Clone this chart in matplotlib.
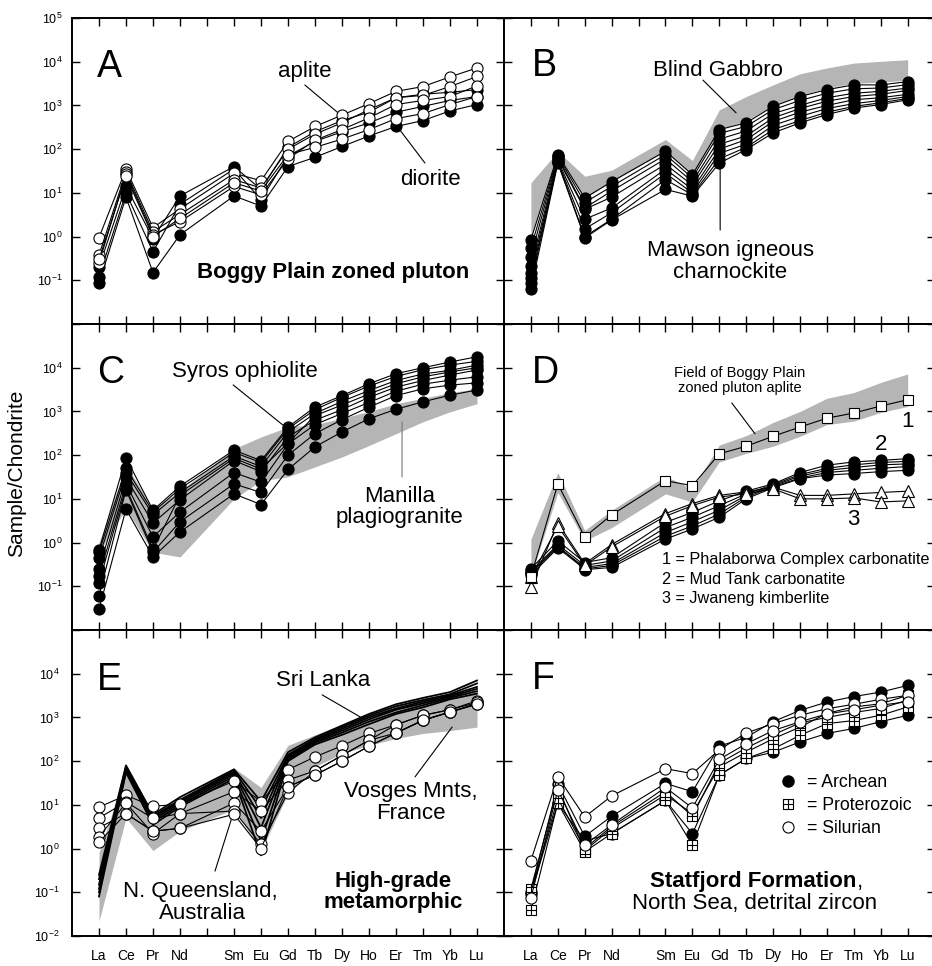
import numpy as np
import matplotlib
matplotlib.use("Agg")
import matplotlib.pyplot as plt
from matplotlib.path import Path
from matplotlib.lines import Line2D
from matplotlib.ticker import NullLocator

plt.rcParams["font.family"] = ["Liberation Sans", "DejaVu Sans"]
plt.rcParams["mathtext.fontset"] = "custom"
plt.rcParams["mathtext.rm"] = "Liberation Sans"

# ---- data (chondrite-normalised REE) ----
elements = ["La", "Ce", "Pr", "Nd", "", "Sm", "Eu", "Gd", "Tb", "Dy", "Ho", "Er", "Tm", "Yb", "Lu"]
ree = ["La", "Ce", "Pr", "Nd", "Sm", "Eu", "Gd", "Tb", "Dy", "Ho", "Er", "Tm", "Yb", "Lu"]

# A  Boggy Plain zoned pluton
boggy_aplite = [
    [0.95, 35, 1.6, 4.3, 28, 19, 150, 330, 600, 1100, 2100, 2700, 4500, 7200],
    [0.38, 30, 1.3, 3.2, 20, 13, 100, 220, 400, 800, 1500, 1700, 2700, 4600],
    [0.25, 27, 1.1, 2.2, 14, 9, 60, 160, 280, 520, 1050, 1300, 1600, 2800],
    [0.30, 24, 1.0, 2.6, 17, 11, 75, 110, 170, 280, 500, 650, 1050, 1600],
]
boggy_diorite = [
    [0.20, 14, 0.9, 8.5, 40, 12, 110, 250, 450, 700, 1500, 1800, 2000, 2300],
    [0.12, 10, 0.45, 5.5, 35, 7, 70, 150, 250, 400, 700, 950, 1300, 1600],
    [0.085, 8, 0.15, 1.1, 8.5, 5, 40, 65, 115, 200, 330, 450, 750, 1050],
]

# B  Mawson igneous charnockite + Blind Gabbro field
mawson = [
    [0.85, 75, 7.6, 18, 90, 26, 280, 400, 950, 1600, 2300, 2950, 2950, 3500],
    [0.55, 70, 6.0, 14, 75, 22, 230, 330, 800, 1300, 1900, 2400, 2500, 3000],
    [0.35, 65, 4.5, 11, 60, 18, 170, 260, 650, 1000, 1500, 1900, 2100, 2500],
    [0.21, 60, 4.2, 8, 45, 15, 130, 200, 520, 850, 1250, 1600, 1800, 2200],
    [0.15, 55, 2.5, 4.5, 35, 12, 100, 165, 430, 700, 1000, 1350, 1500, 1800],
    [0.11, 52, 1.5, 3.5, 28, 10, 80, 130, 350, 560, 850, 1100, 1300, 1600],
    [0.087, 50, 1.0, 2.5, 20, 9, 60, 110, 280, 450, 700, 950, 1150, 1450],
    [0.062, 48, 0.93, 2.4, 12, 8.4, 48, 98, 235, 400, 620, 870, 1050, 1350],
]
gabbro_hi = [17, 89, 24, 33, 166, 55, 790, 1600, 2950, 5300, 7200, 9300, 10200, 11100]
gabbro_lo = [1.0, 75, 7.6, 18, 90, 26, 280, 450, 1000, 1700, 2500, 3200, 3400, 3800]

# C  Syros ophiolite + Manilla plagiogranite field
syros = [
    [0.68, 87, 5.5, 19.5, 130, 75, 440, 1260, 2300, 4300, 7300, 10000, 13500, 17800],
    [0.60, 50, 5.0, 17, 115, 68, 400, 1100, 2100, 3800, 6300, 9000, 11500, 14000],
    [0.45, 40, 4.3, 14, 95, 55, 340, 900, 1700, 3000, 5100, 7200, 8700, 11500],
    [0.25, 30, 2.8, 9.5, 75, 42, 260, 630, 1100, 2100, 3600, 5100, 6800, 8900],
    [0.17, 22, 1.35, 5.0, 40, 24, 180, 500, 900, 1600, 2900, 4200, 5200, 6200],
    [0.06, 16, 0.6, 3.0, 22, 14, 100, 310, 650, 1250, 2300, 3300, 4000, 4500],
    [0.03, 5.8, 0.47, 1.75, 13, 7.4, 47, 155, 340, 680, 1120, 1660, 2350, 3100],
    [0.12, 18, 0.7, 12, 85, 48, 190, 800, 1400, 2500, 4300, 6200, 8000, 10000],
]
manilla_hi = [1.0, 60, 6, 15, 140, 260, 440, 500, 700, 1000, 1500, 2000, 2700, 3300]
manilla_lo = [0.6, 6, 0.6, 0.47, 10, 26, 32, 54, 91, 166, 310, 580, 980, 1500]

# D  carbonatites / kimberlite + Boggy Plain aplite field
phalaborwa = [0.165, 22, 1.35, 4.3, 26, 20, 107, 160, 270, 440, 700, 920, 1330, 1850]
mud_tank = [
    [0.25, 1.1, 0.35, 0.45, 2.9, 4.9, 9, 15, 22, 40, 59, 70, 76, 83],
    [0.22, 0.9, 0.30, 0.38, 2.2, 3.8, 7, 13, 21, 36, 50, 60, 68, 72],
    [0.20, 0.8, 0.27, 0.33, 1.7, 3.0, 5.5, 12, 20, 33, 45, 52, 60, 63],
    [0.18, 0.75, 0.25, 0.30, 1.4, 2.4, 4.5, 11, 19, 30, 40, 45, 50, 55],
    [0.20, 0.85, 0.24, 0.27, 1.2, 2.05, 3.8, 10, 18, 29, 35, 38, 42, 45],
]
jwaneng = [
    [0.095, 2.8, 0.33, 0.9, 4.6, 7.8, 12, 14.5, 18.5, 12, 12, 13, 14, 15],
    [0.16, 2.4, 0.30, 0.8, 4.0, 7.0, 11, 13, 17, 10, 10, 10.5, 8.5, 9],
]
aplite_hi = [1.2, 40, 1.9, 5.5, 33, 17, 170, 280, 560, 1000, 2000, 2700, 4600, 7200]
aplite_lo = [0.17, 14, 1.1, 2.2, 13, 8.5, 70, 110, 160, 270, 500, 600, 950, 1300]

# E  high-grade metamorphic
sri_lanka = [
    [0.25, 80, 6, 15, 65, 12, 160, 350, 650, 1200, 2000, 2800, 3800, 7000],
    [0.20, 75, 5.5, 13, 60, 8, 140, 320, 600, 1100, 1800, 2500, 3400, 6000],
    [0.15, 70, 5, 12, 55, 5, 130, 300, 550, 1000, 1600, 2300, 3200, 5000],
    [0.12, 65, 4.5, 11, 50, 3, 120, 280, 500, 900, 1500, 2100, 3000, 4500],
    [0.10, 60, 4, 10, 45, 1.5, 110, 260, 450, 800, 1300, 1900, 2800, 4000],
    [0.08, 55, 3.5, 9, 40, 0.7, 100, 240, 400, 700, 1200, 1700, 2600, 3500],
]
queensland = [
    [8.9, 16.5, 9.3, 10.3, 35, 11.8, 64, 125, 225, 430, 680, 1120, 1500, 2400],
    [5.0, 11.7, 4.9, 6.3, 20, 7.3, 37, 60, 135, 300, 440, 860, 1330, 2100],
    [3.0, 6.3, 2.5, 2.9, 11, 2.5, 26, 48, 100, 220, 440, 860, 1330, 2000],
    [1.85, 11, 2.2, 6.3, 7.2, 1.25, 19, 60, 135, 300, 680, 1120, 1500, 2200],
    [1.4, 6.3, 2.5, 2.9, 6.1, 1.0, 26, 48, 100, 220, 440, 860, 1330, 2000],
]
vosges_hi = [0.8, 60, 6, 14, 70, 25, 230, 400, 700, 1200, 2000, 2800, 3500, 4000]
vosges_lo = [0.022, 5, 0.9, 2.5, 8, 0.9, 18, 74, 150, 230, 330, 430, 500, 600]

# F  Statfjord Formation detrital zircon
archean = [
    [0.10, 30, 1.9, 5.5, 31, 20, 220, 350, 800, 1450, 2250, 3000, 3800, 5400],
    [0.09, 11, 1.5, 2.2, 12.6, 2.2, 48, 115, 160, 275, 430, 560, 800, 1120],
]
proterozoic = [
    [0.12, 25, 0.9, 2.9, 17, 6.3, 74, 160, 325, 600, 1240, 1740, 2050, 3200],
    [0.039, 11, 0.85, 2.2, 12.6, 1.2, 48, 115, 190, 390, 720, 850, 1120, 1740],
    [0.10, 14, 1.0, 3.2, 20, 5.5, 90, 200, 400, 750, 1000, 1300, 1600, 2500],
]
silurian = [
    [0.53, 44, 5.3, 16, 67, 52, 182, 440, 720, 1120, 1580, 2000, 2600, 3200],
    [0.074, 22, 1.2, 3.5, 25, 8.5, 110, 250, 500, 800, 1200, 1500, 1900, 2300],
]

pos = [elements.index(e) for e in ree]
gray = "#b5b5b5"

# boxed-plus marker for Proterozoic
boxplus = Path(
    [(-1, -1), (1, -1), (1, 1), (-1, 1), (-1, -1), (-1, 0), (1, 0), (0, -1), (0, 1)],
    [Path.MOVETO, Path.LINETO, Path.LINETO, Path.LINETO, Path.CLOSEPOLY,
     Path.MOVETO, Path.LINETO, Path.MOVETO, Path.LINETO])

W, H = 932, 966
fig = plt.figure(figsize=(W / 100, H / 100), dpi=100)


def make_ax(x0, x1, top):
    return fig.add_axes([x0 / W, (H - top - 306) / H, (x1 - x0) / W, 306 / H])


axA = make_ax(72, 504, 18)
axB = make_ax(504, 934.6, 18)
axC = make_ax(72, 504, 324)
axD = make_ax(504, 934.6, 324)
axE = make_ax(72, 504, 630)
axF = make_ax(504, 934.6, 630)

decades = [1e-2, 1e-1, 1e0, 1e1, 1e2, 1e3, 1e4, 1e5]
for ax in [axA, axB, axC, axD, axE, axF]:
    ax.set_yscale("log")
    ax.set_xlim(-1, 15)
    ax.set_ylim(1e-2, 1e5)
    ax.set_xticks(range(15))
    ax.set_yticks(decades)
    ax.yaxis.set_minor_locator(NullLocator())
    ax.tick_params(direction="in", length=5.5, width=1, top=True, right=True,
                   labelsize=9, pad=7, labelbottom=False, labelleft=False)
    for s in ax.spines.values():
        s.set_linewidth(1.4)

left_labels = {
    axA: [None, -1, 0, 1, 2, 3, 4, 5],
    axC: [None, -1, 0, 1, 2, 3, 4, None],
    axE: [-2, -1, 0, 1, 2, 3, 4, None],
}
for ax, exps in left_labels.items():
    ax.tick_params(labelleft=True)
    ax.set_yticklabels(["" if e is None else r"$\mathregular{10^{%d}}$" % e for e in exps])

for ax in [axE, axF]:
    ax.tick_params(labelbottom=True, pad=9)
    ax.set_xticklabels(elements, fontsize=10)

lw, ms = 0.8, 8
big = 16


def series(ax, vals, marker="o", fc="k", size=ms, z=3):
    ax.plot(pos, vals, color="k", lw=lw, marker=marker, ms=size, mfc=fc,
            mec="k", mew=0.8, zorder=z)


def band(ax, lo, hi):
    ax.fill_between(pos, lo, hi, color=gray, lw=0, zorder=1)


def label(ax, x, y, s, size=big, ha="center", weight="normal", color="k"):
    return ax.text(x, y, s, transform=ax.transAxes, fontsize=size, ha=ha,
                   va="baseline", fontweight=weight, color=color)


def leader(ax, p0, p1, color="k"):
    ax.annotate("", xy=p1, xytext=p0, xycoords="axes fraction",
                textcoords="axes fraction",
                arrowprops=dict(arrowstyle="-", lw=0.8, color=color,
                                shrinkA=0, shrinkB=0))


# ---- A ----
for v in boggy_diorite:
    series(axA, v, fc="k")
for v in boggy_aplite:
    series(axA, v, fc="white", z=4)
label(axA, 0.058, 0.808, "A", size=27, ha="left")
label(axA, 0.539, 0.807, "aplite")
leader(axA, (0.539, 0.781), (0.616, 0.690))
label(axA, 0.829, 0.454, "diorite")
leader(axA, (0.817, 0.526), (0.759, 0.634))
label(axA, 0.289, 0.150, "Boggy Plain zoned pluton", ha="left", weight="bold")

# ---- B ----
band(axB, gabbro_lo, gabbro_hi)
for v in mawson:
    series(axB, v, fc="k")
label(axB, 0.064, 0.810, "B", size=27, ha="left")
label(axB, 0.497, 0.810, "Blind Gabbro")
leader(axB, (0.462, 0.797), (0.539, 0.690))
label(axB, 0.525, 0.222, "Mawson igneous")
label(axB, 0.525, 0.150, "charnockite")
leader(axB, (0.502, 0.307), (0.502, 0.627))

# ---- C ----
band(axC, manilla_lo, manilla_hi)
for v in syros:
    series(axC, v, fc="k")
label(axC, 0.058, 0.807, "C", size=27, ha="left")
label(axC, 0.40, 0.828, "Syros ophiolite")
leader(axC, (0.373, 0.801), (0.488, 0.670))
label(axC, 0.759, 0.419, "Manilla")
label(axC, 0.759, 0.350, "plagiogranite")
leader(axC, (0.764, 0.50), (0.764, 0.68), color="#777777")

# ---- D ----
band(axD, aplite_lo, aplite_hi)
for v in mud_tank:
    series(axD, v, fc="k")
for v in jwaneng:
    series(axD, v, marker="^", fc="white", z=4)
series(axD, phalaborwa, marker="s", fc="white", size=7, z=5)
label(axD, 0.064, 0.807, "D", size=27, ha="left")
label(axD, 0.548, 0.828, "Field of Boggy Plain", size=10.5)
label(axD, 0.548, 0.779, "zoned pluton aplite", size=10.5)
leader(axD, (0.529, 0.742), (0.583, 0.641))
label(axD, 0.938, 0.664, "1")
label(axD, 0.876, 0.588, "2")
label(axD, 0.811, 0.343, "3")
label(axD, 0.367, 0.216, "1 = Phalaborwa Complex carbonatite", size=11.7, ha="left")
label(axD, 0.367, 0.150, "2 = Mud Tank carbonatite", size=11.7, ha="left")
label(axD, 0.367, 0.087, "3 = Jwaneng kimberlite", size=11.7, ha="left")

# ---- E ----
band(axE, vosges_lo, vosges_hi)
for v in sri_lanka:
    axE.plot(pos, v, color="k", lw=1.3, zorder=3)
for v in queensland:
    series(axE, v, fc="white", z=4)
label(axE, 0.058, 0.804, "E", size=27, ha="left")
label(axE, 0.581, 0.817, "Sri Lanka")
leader(axE, (0.579, 0.788), (0.667, 0.716))
label(axE, 0.785, 0.454, "Vosges Mnts,")
label(axE, 0.785, 0.382, "France")
leader(axE, (0.794, 0.520), (0.880, 0.683))
label(axE, 0.296, 0.128, "N. Queensland,")
label(axE, 0.301, 0.055, "Australia")
leader(axE, (0.331, 0.212), (0.377, 0.418))
label(axE, 0.743, 0.161, "High-grade", weight="bold")
label(axE, 0.743, 0.090, "metamorphic", weight="bold")

# ---- F ----
for v in archean:
    series(axF, v, fc="k")
for v in proterozoic:
    series(axF, v, marker=boxplus, fc="white", size=7, z=4)
for v in silurian:
    series(axF, v, fc="white", z=5)
label(axF, 0.064, 0.807, "F", size=27, ha="left")
t = label(axF, 0.819, 0.161, "Statfjord Formation", ha="right", weight="bold")
axF.annotate(",", xy=(1, 0), xycoords=t, ha="left", va="bottom", fontsize=big)
label(axF, 0.583, 0.088, "North Sea, detrital zircon")
handles = [
    Line2D([], [], ls="none", marker="o", ms=ms, mfc="k", mec="k"),
    Line2D([], [], ls="none", marker=boxplus, ms=7, mfc="white", mec="k", mew=0.8),
    Line2D([], [], ls="none", marker="o", ms=ms, mfc="white", mec="k", mew=0.8),
]
axF.legend(handles, ["= Archean", "= Proterozoic", "= Silurian"], loc="upper left",
           bbox_to_anchor=(0.641, 0.53), frameon=False, fontsize=12.7,
           handlelength=0.95, handletextpad=0.6, labelspacing=0.35, borderpad=0,
           borderaxespad=0)

fig.text(0.018, 0.51, "Sample/Chondrite", rotation=90, ha="center", va="center",
         fontsize=15)

fig.savefig("out.png", dpi=100)
